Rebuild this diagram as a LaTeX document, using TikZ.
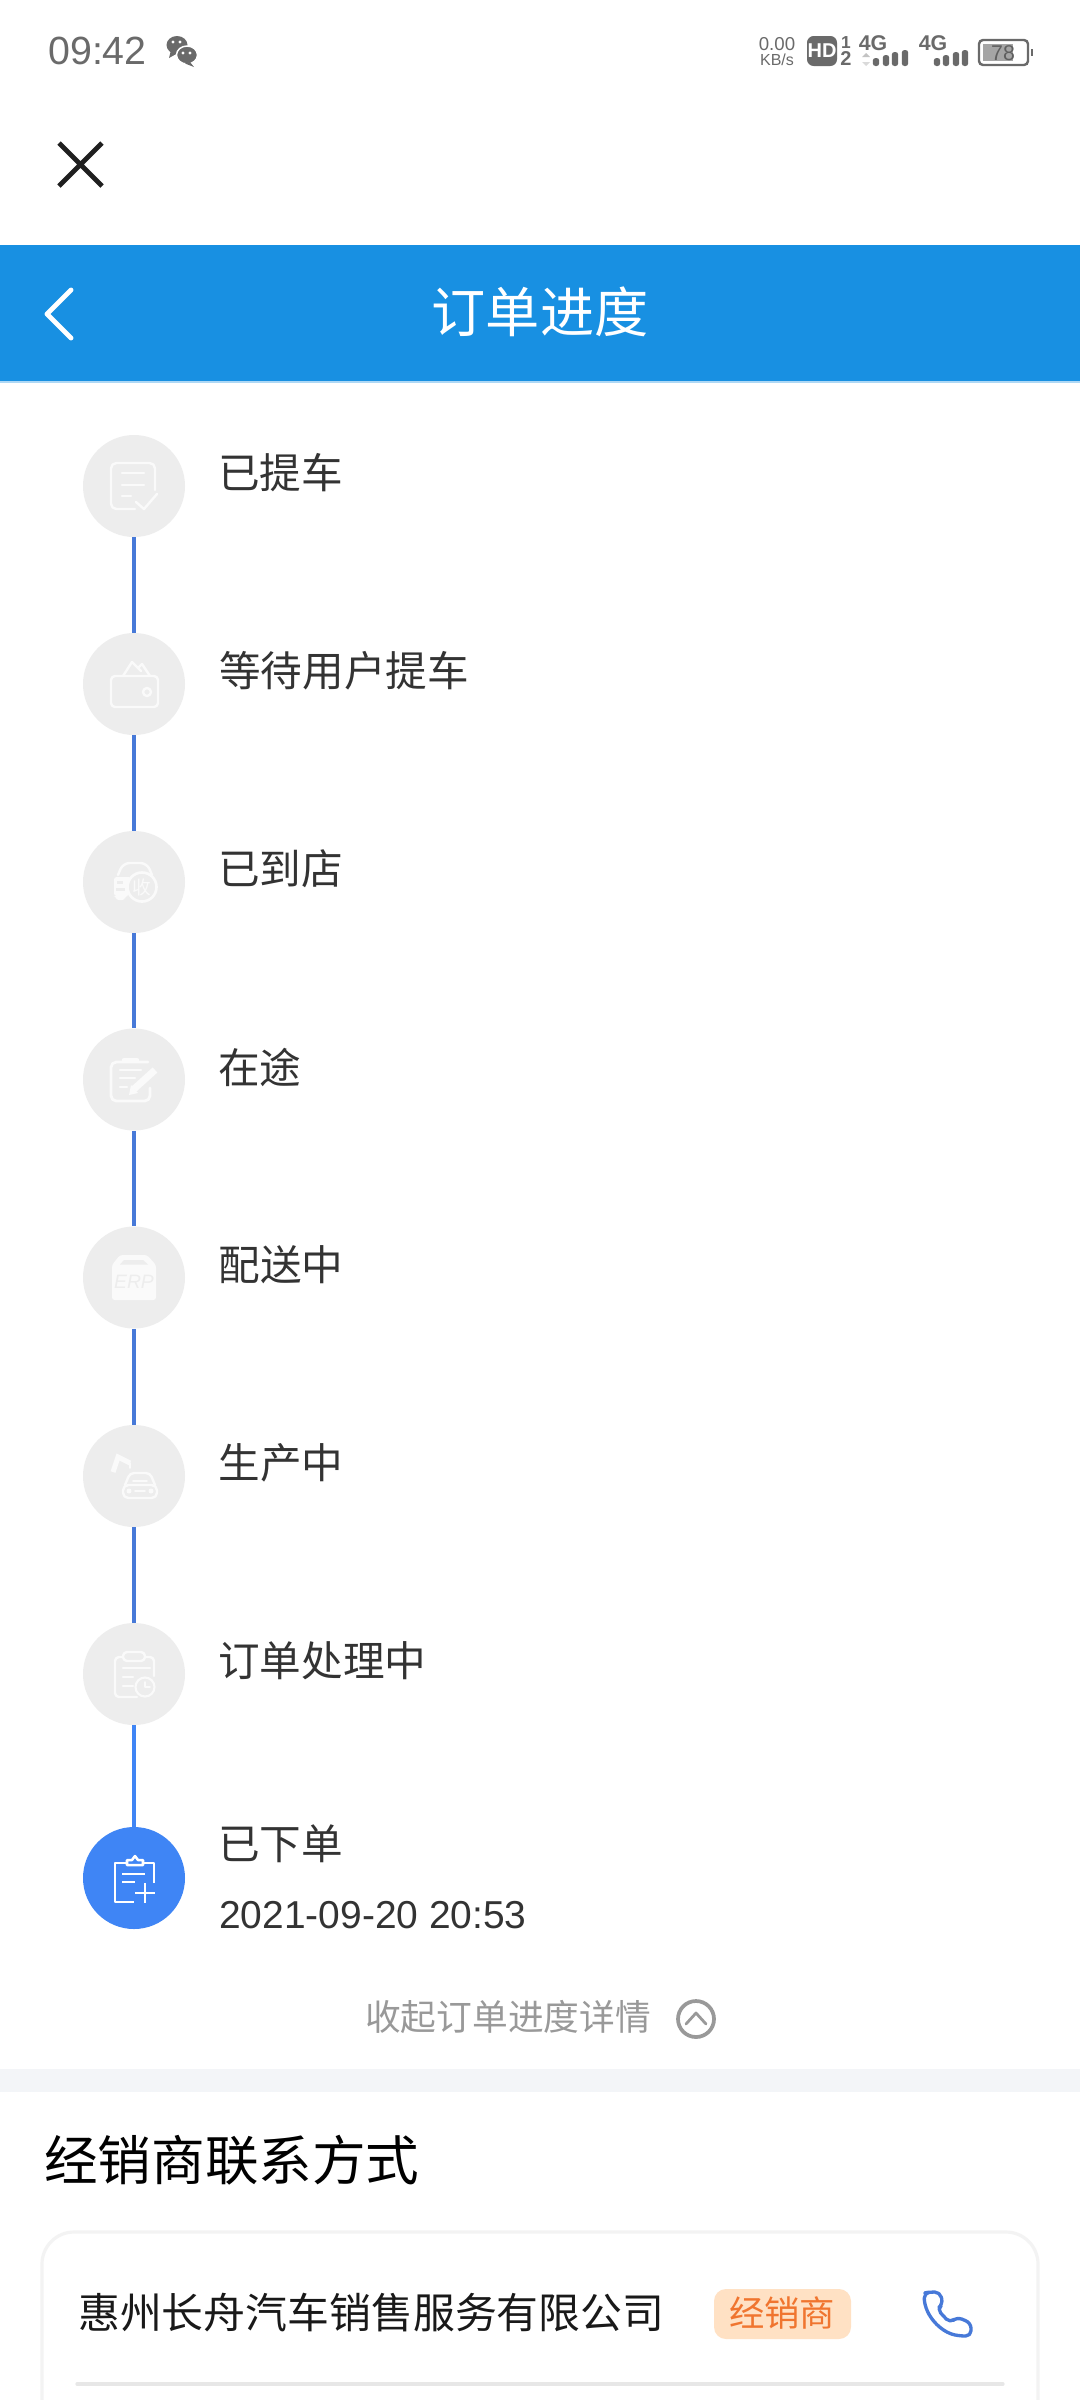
\documentclass[tikz,border=0pt]{standalone}
\usepackage{fontspec}
\setmainfont{Noto Sans CJK SC}
\newfontfamily\latinfont{Liberation Sans}
\definecolor{headblue}{HTML}{1890E2}
\definecolor{stepgray}{HTML}{EDEDED}
\definecolor{stepblue}{HTML}{3F85F5}
\definecolor{linkblue}{HTML}{4779D8}
\definecolor{inktext}{HTML}{333333}
\definecolor{muted}{HTML}{999999}
\definecolor{statusgray}{HTML}{6A6A6A}
\definecolor{bandgray}{HTML}{F3F5F8}
\definecolor{cardline}{HTML}{F3F3F3}
\definecolor{tagfill}{HTML}{FFE1C4}
\definecolor{tagtext}{HTML}{F0752F}
\definecolor{iconwhite}{HTML}{FAFAFA}
\tikzset{
  stepdot/.style={circle,fill=stepgray,minimum size=76.5pt,inner sep=0pt,draw=none},
  activedot/.style={stepdot,fill=stepblue},
  conn/.style={draw=linkblue,line width=2.3pt,xshift=0.75pt},
  steplabel/.style={anchor=west,inner sep=0pt,text=inktext,font=\fontsize{31.2pt}{37pt}\selectfont},
  glyph/.style={draw=iconwhite,line width=1.8pt,line cap=round,line join=round},
  stattext/.style={inner sep=0pt,text=statusgray},
}
\begin{document}
\begin{tikzpicture}[x=0.75pt,y=-0.75pt]
\useasboundingbox (0,0) rectangle (1080,2400);
\fill[white] (0,0) rectangle (1080,2400);

% status bar
\node[stattext,anchor=west,font=\latinfont\fontsize{29.5pt}{34pt}\selectfont] (clock) at (48,51) {09:42};
\fill[statusgray] (177,45) ellipse [x radius=10.5,y radius=9];
\fill[statusgray] (171,50) -- (169,58) -- (178,53) -- cycle;
\draw[white,fill=statusgray,line width=1.1pt] (187,55) ellipse [x radius=10.5,y radius=9];
\fill[statusgray] (190,62) -- (194,67) -- (185,63.5) -- cycle;
\fill[white] (173,42) circle (1.7) (180,42) circle (1.7) (183,53) circle (1.6) (190,53) circle (1.6);

\node[stattext,font=\latinfont\fontsize{14pt}{15pt}\selectfont] (netval) at (777,44) {0.00};
\node[stattext,font=\latinfont\fontsize{12pt}{13pt}\selectfont] (netunit) at (777,60) {KB/s};
\fill[statusgray,rounded corners=5pt] (807,36) rectangle (837,66);
\node[inner sep=0pt,text=white,font=\latinfont\bfseries\fontsize{15pt}{16pt}\selectfont] (hd) at (822,51) {HD};
\node[stattext,font=\latinfont\bfseries\fontsize{13pt}{14pt}\selectfont] (simone) at (846,43) {1};
\node[stattext,font=\latinfont\bfseries\fontsize{15pt}{16pt}\selectfont] (simtwo) at (846,59) {2};
\node[stattext,font=\latinfont\bfseries\fontsize{16pt}{17pt}\selectfont] (lteone) at (873,43) {4G};
\node[stattext,font=\latinfont\bfseries\fontsize{16pt}{17pt}\selectfont] (ltetwo) at (933,43) {4G};
\fill[statusgray!40] (862,57) -- (866,53) -- (870,57) -- cycle;
\fill[statusgray!25] (862,62) -- (866,66) -- (870,62) -- cycle;
\foreach \bx/\by in {876/58,886/55,895/52,905/50,937/58,946/55,956/52,965/50}
  \fill[statusgray,rounded corners=2pt] (\bx-3.2,\by) rectangle (\bx+3.2,66);
\draw[statusgray,line width=1.8pt,rounded corners=3pt] (979,40) rectangle (1028,65);
\fill[statusgray!60] (983,44) rectangle (1013,61);
\fill[statusgray] (1031,49) rectangle (1033,56);
\node[stattext,text=statusgray!90!black,font=\latinfont\fontsize{16pt}{17pt}\selectfont] (batt) at (1003,53) {78};

% close
\draw[black!88,line width=3.7pt] (59,143) -- (102,186) (102,143) -- (59,186);

% header
\fill[headblue] (0,245) rectangle (1080,381);
\fill[headblue!35] (0,381) rectangle (1080,382.5);
\draw[white,line width=3.7pt,line cap=round,line join=round] (71,290) -- (47,314) -- (71,338);
\node[inner sep=0pt,text=white,font=\fontsize{40.6pt}{49pt}\selectfont] (title) at (540,312) {订单进度};

% steps
\node[stepdot] (s1) at (134,486) {};
\node[stepdot] (s2) at (134,684) {};
\node[stepdot] (s3) at (134,882) {};
\node[stepdot] (s4) at (134,1079.5) {};
\node[stepdot] (s5) at (134,1277.5) {};
\node[stepdot] (s6) at (134,1476) {};
\node[stepdot] (s7) at (134,1674) {};
\node[activedot] (s8) at (134,1878) {};
\draw[conn] (s1) -- (s2);
\draw[conn] (s2) -- (s3);
\draw[conn] (s3) -- (s4);
\draw[conn] (s4) -- (s5);
\draw[conn] (s5) -- (s6);
\draw[conn] (s6) -- (s7);
\draw[conn,draw=stepblue] (s7) -- (s8);

\node[steplabel] (l1) at (218,473) {已提车};
\node[steplabel] (l2) at (219,671) {等待用户提车};
\node[steplabel] (l3) at (218,869) {已到店};
\node[steplabel] (l4) at (218,1067) {在途};
\node[steplabel] (l5) at (218.5,1265) {配送中};
\node[steplabel] (l6) at (218.5,1463) {生产中};
\node[steplabel] (l7) at (218,1661) {订单处理中};
\node[steplabel] (l8) at (218,1844) {已下单};
\node[steplabel,font=\latinfont\fontsize{29.2pt}{35pt}\selectfont] (d8) at (219,1915) {2021-09-20 20:53};

% icon 1: sheet with check
\draw[glyph,rounded corners=4pt] (155,490) -- (155,463) -- (111,463) -- (111,509) -- (135,509);
\draw[glyph] (122,473) -- (144,473) (122,485) -- (144,485) (122,496) -- (131,496);
\draw[glyph] (136,502) -- (144,509) -- (157,494);

% icon 2: wallet
\draw[glyph,rounded corners=3pt] (111,676) rectangle (158,707);
\draw[glyph] (123,676) -- (132,662) -- (141,671) (138,668) -- (142,664) -- (150,676);
\draw[glyph] (147,692) circle (4);

% icon 3: car and receipt seal
\draw[glyph,rounded corners=5pt] (118,875) -- (123,863) -- (147,863) -- (152,875);
\fill[iconwhite,rounded corners=2pt] (114,877) -- (131,877) -- (129,896) -- (125,896) -- (125,900) -- (116,900) -- (116,896) -- (114,896) -- cycle;
\fill[stepgray] (117,881) rectangle (123,884);
\fill[stepgray] (116,888) rectangle (125,891);
\draw[glyph,line width=2pt,fill=stepgray] (142,887) circle (14.5);
\node[inner sep=0pt,text=iconwhite,font=\fontsize{14pt}{15pt}\selectfont] (seal) at (142,887) {收};

% icon 4: clipboard with pencil
\draw[glyph,line width=2.1pt,rounded corners=4pt] (150,1088) -- (150,1101) -- (111,1101) -- (111,1062) -- (148,1062);
\draw[glyph,line width=3.2pt] (124,1060) -- (137,1060);
\draw[glyph] (120,1070) -- (141,1070) (120,1078) -- (135,1078) (120,1087) -- (127,1087);
\draw[iconwhite,line width=5.2pt] (155,1070) -- (134,1089);
\fill[iconwhite] (129,1095) -- (131,1085) -- (138,1093) -- cycle;

% icon 5: ERP box
\fill[iconwhite,rounded corners=2pt] (112,1265) -- (120,1255) -- (147,1255) -- (156,1265) -- (156,1300) -- (112,1300) -- cycle;
\fill[stepgray] (120,1264.5) -- (124,1260) -- (143,1260) -- (148,1264.5) -- cycle;
\node[inner sep=0pt,text=stepgray,font=\latinfont\itshape\fontsize{14.5pt}{15pt}\selectfont] (erp) at (134,1282) {ERP};

% icon 6: robot arm and car
\draw[glyph,line width=3.8pt,line cap=butt,line join=miter] (113,1472) -- (118,1457) -- (130,1463);
\draw[glyph,line width=1.3pt] (130,1463) -- (130,1468);
\draw[glyph,rounded corners=3pt] (125,1485) -- (130,1473) -- (150,1473) -- (155,1485);
\draw[glyph,rounded corners=4pt] (123,1485) rectangle (157,1498);
\draw[glyph,line width=1.4pt] (133,1481) -- (147,1481) (135,1491) -- (145,1491);
\fill[iconwhite] (129,1491) circle (2.5) (151,1491) circle (2.5);

% icon 7: clipboard with clock
\draw[glyph,rounded corners=3pt] (137,1697) -- (115,1697) -- (115,1657) -- (154,1657) -- (154,1676);
\draw[glyph,fill=stepgray,rounded corners=3pt] (123,1652) rectangle (145,1661);
\draw[glyph] (123,1668) -- (150,1668) (123,1677) -- (133,1677) (123,1686) -- (133,1686);
\draw[glyph,line width=1.6pt] (145,1687) circle (9.5);
\draw[glyph,line width=1.3pt] (145,1682) -- (145,1687) -- (150,1687);

% icon 8: clipboard with plus
\draw[white,line width=1.9pt,line join=round] (154,1883) -- (154,1863) -- (143,1863) (126,1863) -- (115,1863) -- (115,1902) -- (134,1902);
\draw[white,line width=1.9pt,line join=round] (127,1865) -- (127,1860) -- (132,1860) -- (135,1856) -- (138,1860) -- (143,1860) -- (143,1865) -- cycle;
\draw[white,line width=1.9pt] (122,1874) -- (145,1874) (122,1882) -- (135,1882);
\draw[white,line width=1.9pt] (135,1893) -- (155,1893) (145,1883) -- (145,1903);

% collapse row
\node[inner sep=0pt,text=muted,font=\fontsize{26.8pt}{32pt}\selectfont] (fold) at (508,2017) {收起订单进度详情};
\draw[muted,line width=2.8pt] (696,2019) circle (18);
\draw[muted,line width=2.1pt,line cap=round,line join=round] (686,2024) -- (696,2013) -- (706,2024);

% dealer section
\fill[bandgray] (0,2069) rectangle (1080,2092);
\node[anchor=west,inner sep=0pt,text=black,font=\fontsize{40.2pt}{48pt}\selectfont] (dealerhead) at (44,2160) {经销商联系方式};
\draw[cardline,line width=2.4pt,rounded corners=24pt] (42,2420) -- (42,2232) -- (1038,2232) -- (1038,2420);
\node[anchor=west,inner sep=0pt,text=black!90,font=\fontsize{31.4pt}{38pt}\selectfont] (company) at (78,2313) {惠州长舟汽车销售服务有限公司};
\fill[tagfill,rounded corners=9pt] (714,2289) rectangle (851,2339);
\node[inner sep=0pt,text=tagtext,font=\fontsize{26.5pt}{32pt}\selectfont] (tag) at (782,2313) {经销商};
\draw[linkblue,line width=2.5pt,line join=round,rounded corners=4pt] (930,2292) -- (940,2292) -- (943,2304) -- (937,2309) -- (950,2323) -- (957,2317) -- (971,2323) -- (971,2336) -- (960,2336) .. controls (941,2332) and (925,2316) .. (924,2293) -- cycle;
\draw[cardline!95!black,line width=2.4pt,line cap=round] (77,2384) -- (1003,2384);
\end{tikzpicture}
\end{document}
